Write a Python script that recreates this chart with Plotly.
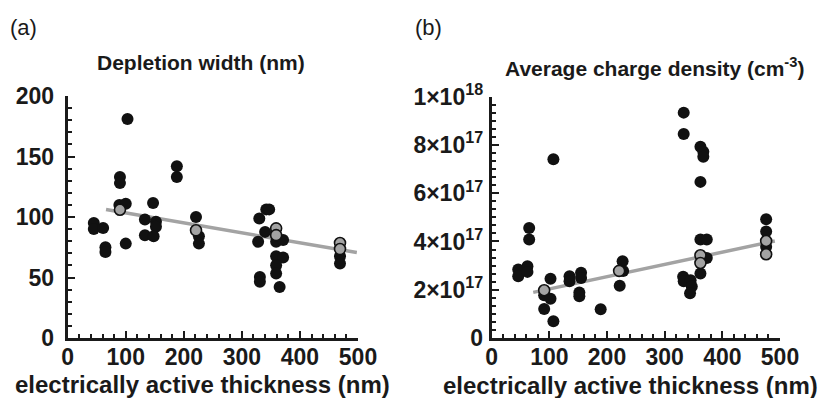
import plotly.graph_objects as go

# ---------------- Panel (a): depletion width ----------------
a_black_x = [45, 45, 61, 65, 65, 103, 90, 90, 89, 100, 100, 133, 133, 147, 152, 152, 148,
             188, 188, 221, 226, 226, 330, 328, 331, 331, 342, 347, 340, 359, 371, 359, 371,
             359, 359, 365, 469, 469]
a_black_y = [95, 90, 91, 75, 71, 181, 133, 128, 110, 111, 78, 98, 85, 111.5, 96, 92, 84,
             142, 133, 100, 84, 78, 98.8, 79.5, 50.5, 46.4, 106.3, 106.3, 87.7, 79.5, 81, 67.6, 66.5,
             60.2, 53.3, 42.2, 67.6, 61.6]
a_gray_x = [90, 221, 359, 359, 469, 469]
a_gray_y = [106, 89, 90.6, 85, 78.5, 73.5]
a_fit_x = [66, 498]
a_fit_y = [106.2, 70.6]

# ---------------- Panel (b): average charge density ----------------
b_black_x = [46, 46, 62, 62, 65, 65, 107, 91, 91, 102, 102, 107, 135, 135, 155, 155, 152, 152,
             189, 227, 228, 222, 333, 333, 332, 333, 345, 347, 344, 362, 367, 367, 362, 362, 373,
             373, 362, 476, 476, 476]
b_black_y = [2.84, 2.56, 2.97, 2.74, 4.56, 4.08, 7.41, 1.77, 1.2, 2.46, 1.63, 0.69, 2.56, 2.35,
             2.7, 2.49, 1.89, 1.73, 1.19, 3.18, 2.78, 2.17, 9.34, 8.45, 2.54, 2.35, 2.39, 2.13,
             1.85, 7.93, 7.72, 7.51, 6.47, 4.08, 4.08, 3.32, 2.67, 4.92, 4.41, 3.78]
b_gray_x = [91, 221, 362, 362, 476, 476]
b_gray_y = [1.98, 2.78, 3.43, 3.11, 4.02, 3.47]
b_fit_x = [72, 491]
b_fit_y = [1.89, 4.02]
b_scale = 1e17

b_tickvals = [0, 2e17, 4e17, 6e17, 8e17, 1e18]
b_ticktext = ["0", "2×10<sup>17</sup>", "4×10<sup>17</sup>", "6×10<sup>17</sup>",
              "8×10<sup>17</sup>", "1×10<sup>18</sup>"]

FONT = "Liberation Sans, Arial, Helvetica, sans-serif"
GRAY = "#a3a3a3"

fig = go.Figure()

def add_panel(xa, ya, fx, fy, bx, by, gx, gy):
    fig.add_trace(go.Scatter(x=fx, y=fy, mode="lines", line=dict(color=GRAY, width=3.5),
                             xaxis=xa, yaxis=ya, showlegend=False, hoverinfo="skip"))
    fig.add_trace(go.Scatter(x=bx, y=by, mode="markers",
                             marker=dict(size=12, color="#111111", line=dict(width=0)),
                             xaxis=xa, yaxis=ya, showlegend=False))
    fig.add_trace(go.Scatter(x=gx, y=gy, mode="markers",
                             marker=dict(size=11, color=GRAY, line=dict(width=1.6, color="#111111")),
                             xaxis=xa, yaxis=ya, showlegend=False))

add_panel("x", "y", a_fit_x, a_fit_y, a_black_x, a_black_y, a_gray_x, a_gray_y)
add_panel("x2", "y2", b_fit_x, [v * b_scale for v in b_fit_y], b_black_x,
          [v * b_scale for v in b_black_y], b_gray_x, [v * b_scale for v in b_gray_y])

tickfont = dict(family=FONT, size=23, color="#1a1a1a", weight="bold")
common_axis = dict(showline=True, linewidth=3, linecolor="#1a1a1a", ticks="inside",
                   ticklen=7, tickwidth=2, tickcolor="#1a1a1a", showgrid=False,
                   zeroline=False, tickfont=tickfont, mirror=False, fixedrange=True,
                   automargin=False)

W, H = 827, 398
def px_x(p):
    return p / W
def px_y(p):
    return (H - p) / H

fig.update_layout(
    width=W, height=H, margin=dict(l=0, r=0, t=0, b=0, pad=0, autoexpand=False),
    autosize=False, showlegend=False,
    paper_bgcolor="white", plot_bgcolor="white",
    xaxis=dict(domain=[px_x(67.7), px_x(358)], range=[0, 500], tickvals=[0, 100, 200, 300, 400, 500],
               anchor="y", ticklabelstandoff=-4,
               minor=dict(dtick=20, ticks="inside", ticklen=4, tickwidth=2, tickcolor="#1a1a1a"),
               **common_axis),
    yaxis=dict(domain=[px_y(338), px_y(96)], range=[0, 200], tickvals=[0, 50, 100, 150, 200],
               anchor="x", ticklabelstandoff=6,
               minor=dict(dtick=10, ticks="inside", ticklen=4, tickwidth=2, tickcolor="#1a1a1a"),
               **common_axis),
    xaxis2=dict(domain=[px_x(491.7), px_x(780)], range=[0, 500], tickvals=[0, 100, 200, 300, 400, 500],
                anchor="y2", ticklabelstandoff=-4,
                minor=dict(dtick=20, ticks="inside", ticklen=4, tickwidth=2, tickcolor="#1a1a1a"),
                **common_axis),
    yaxis2=dict(domain=[px_y(338), px_y(96.7)], range=[0, 1e18], tickvals=b_tickvals,
                ticktext=b_ticktext, anchor="x2", ticklabelstandoff=1,
                minor=dict(dtick=2e17 / 6, ticks="inside", ticklen=4, tickwidth=2, tickcolor="#1a1a1a"),
                **common_axis),
)

annots = [
    dict(text="(a)", x=px_x(23), y=px_y(28), size=22, bold=False),
    dict(text="(b)", x=px_x(428), y=px_y(27), size=22, bold=False),
    dict(text="Depletion width (nm)", x=px_x(201), y=px_y(63), size=21, bold=True),
    dict(text="Average charge density (cm<sup>-3</sup>)", x=px_x(654), y=px_y(67), size=21, bold=True),
    dict(text="electrically active thickness (nm)", x=px_x(202), y=px_y(384), size=24, bold=True),
    dict(text="electrically active thickness (nm)", x=px_x(630), y=px_y(385), size=24, bold=True),
]
for a in annots:
    fig.add_annotation(text=a["text"], x=a["x"], y=a["y"], xref="paper", yref="paper",
                       xanchor="center", yanchor="middle", showarrow=False,
                       font=dict(family=FONT, size=a["size"], color="#1a1a1a",
                                 weight="bold" if a["bold"] else "normal"))

fig.write_html("out.html")
